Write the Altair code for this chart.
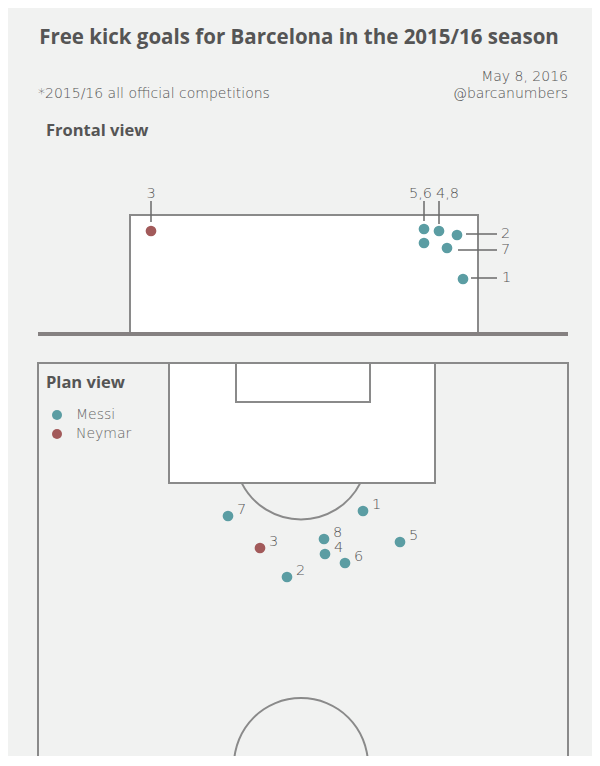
import math
import altair as alt
import pandas as pd

# ---------------- colours / fonts ----------------
BG = "#f1f2f1"
LINE = "#8a8a8a"
GROUND = "#858181"
TEXT = "#555555"
LEADER = "#6a6a6a"
FONT = "Open Sans"
LIGHT_FONT = "DejaVu Sans"
player_names = ["Messi", "Neymar"]
player_colors = ["#5b9da3", "#a25a5a"]

# ---------------- data (drawing units) ----------------
# Plan view: goal number, position, scorer
plan_goal = ["1", "2", "3", "4", "5", "6", "7", "8"]
plan_x = [363, 287, 260, 325, 400, 345, 228, 324]
plan_y = [511, 577, 548, 554, 542, 563, 516, 539]
plan_player = ["Messi", "Messi", "Neymar", "Messi", "Messi", "Messi", "Messi", "Messi"]

# Frontal view: where the ball entered the goal
front_x = [463, 457, 151, 439, 424, 424, 447]
front_y = [279, 235, 231, 231, 229, 243, 248]
front_player = ["Messi", "Messi", "Neymar", "Messi", "Messi", "Messi", "Messi"]

# Frontal view annotations
front_label = ["3", "5,6", "4,8", "2", "7", "1"]
front_label_x = [151, 432, 436, 501, 501, 502]
front_label_y = [198, 198, 198, 238, 254, 282]
front_label_align = ["center", "right", "left", "left", "left", "left"]
leader_x = [151, 424, 439, 466, 458, 471]
leader_x2 = [151, 424, 439, 497, 497, 497]
leader_y = [201, 201, 201, 234, 250, 278]
leader_y2 = [222, 221, 224, 234, 250, 278]

# Goal frame (frontal) and ground
goal_frame = dict(x=[130], x2=[478], y=[215], y2=[334])
ground = dict(x=[38], x2=[568], y=[334])

# Pitch (plan) outlines
pitch_name = ["pitch", "penalty area", "goal area"]
pitch_x = [38, 169, 236]
pitch_x2 = [568, 435, 370]
pitch_y = [363, 363, 363]
pitch_y2 = [765, 483, 402]
pitch_fill = [BG, "#ffffff", "#ffffff"]

# Arcs: penalty arc (centre = penalty spot) and centre circle
arc_name = ["penalty arc", "centre circle"]
arc_x = [301, 301]
arc_y = [453, 765]
arc_r = [66.5, 67]
arc_start = [math.pi - 1.10, 1.5 * math.pi]
arc_end = [math.pi + 1.10, 2.5 * math.pi]

# Texts
texts = [
    ("Free kick goals for Barcelona in the 2015/16 season", 299, 44, "center", 20.5, FONT, "bold"),
    ("*2015/16 all official competitions", 38, 98, "left", 14, LIGHT_FONT, 200),
    ("May 8, 2016", 568, 81, "right", 14, LIGHT_FONT, 200),
    ("@barcanumbers", 568, 98, "right", 14, LIGHT_FONT, 200),
]
heads = [("Frontal view", 46, 136), ("Plan view", 46, 388)]

legend_x = [57, 57]
legend_y = [415, 434]

# ---------------- scales ----------------
W, H = 584, 748
xs = alt.Scale(domain=[8, 8 + W], nice=False, zero=False)
ys = alt.Scale(domain=[8, 8 + H], reverse=True, nice=False, zero=False)
color_scale = alt.Scale(domain=player_names, range=player_colors)


def X(f="x"):
    return alt.X(f"{f}:Q", scale=xs, axis=None)


def Y(f="y"):
    return alt.Y(f"{f}:Q", scale=ys, axis=None)


layers = []

# pitch rectangles
pitch_df = pd.DataFrame(dict(name=pitch_name, x=pitch_x, x2=pitch_x2, y=pitch_y, y2=pitch_y2, fill=pitch_fill))
layers.append(
    alt.Chart(pitch_df).mark_rect(stroke=LINE, strokeWidth=2, clip=True).encode(
        x=X(), x2="x2:Q", y=Y(), y2="y2:Q", fill=alt.Fill("fill:N", scale=None)
    )
)

# arcs
arc_df = pd.DataFrame(dict(name=arc_name, x=arc_x, y=arc_y, r=arc_r, t1=arc_start, t2=arc_end))
for i in range(len(arc_name)):
    sub = arc_df.iloc[[i]]
    layers.append(
        alt.Chart(sub).mark_arc(
            radius=float(arc_r[i]) + 1, radius2=float(arc_r[i]) - 1,
            theta=float(arc_start[i]), theta2=float(arc_end[i]), color=LINE, clip=True
        ).encode(x=X(), y=Y())
    )

# goal frame
layers.append(
    alt.Chart(pd.DataFrame(goal_frame)).mark_rect(fill="#ffffff", stroke=LINE, strokeWidth=2).encode(
        x=X(), x2="x2:Q", y=Y(), y2="y2:Q"
    )
)
# ground
layers.append(
    alt.Chart(pd.DataFrame(ground)).mark_rule(color=GROUND, strokeWidth=4).encode(x=X(), x2="x2:Q", y=Y())
)

# leaders
lead_df = pd.DataFrame(dict(x=leader_x, x2=leader_x2, y=leader_y, y2=leader_y2))
layers.append(
    alt.Chart(lead_df).mark_rule(color=LEADER, strokeWidth=1.5).encode(x=X(), x2="x2:Q", y=Y(), y2="y2:Q")
)

# frontal labels
fl_df = pd.DataFrame(dict(t=front_label, x=front_label_x, y=front_label_y, a=front_label_align))
for al in ["center", "right", "left"]:
    layers.append(
        alt.Chart(fl_df[fl_df.a == al]).mark_text(
            align=al, baseline="alphabetic", font=LIGHT_FONT, fontSize=14.5, color=TEXT, fontWeight=200
        ).encode(x=X(), y=Y(), text="t:N")
    )

# frontal dots
fd_df = pd.DataFrame(dict(x=front_x, y=front_y, player=front_player))
layers.append(
    alt.Chart(fd_df).mark_circle(size=115, opacity=1).encode(
        x=X(), y=Y(), color=alt.Color("player:N", scale=color_scale, legend=None)
    )
)

# plan dots + labels
pd_df = pd.DataFrame(dict(goal=plan_goal, x=plan_x, y=plan_y, player=plan_player))
layers.append(
    alt.Chart(pd_df).mark_circle(size=115, opacity=1).encode(
        x=X(), y=Y(), color=alt.Color("player:N", scale=color_scale, legend=None)
    )
)
layers.append(
    alt.Chart(pd_df).mark_text(
        align="left", baseline="alphabetic", dx=9, dy=-2, font=LIGHT_FONT, fontSize=14.5, color=TEXT, fontWeight=200
    ).encode(x=X(), y=Y(), text="goal:N")
)

# legend
leg_df = pd.DataFrame(dict(player=player_names, x=legend_x, y=legend_y))
layers.append(
    alt.Chart(leg_df).mark_circle(size=100, opacity=1).encode(
        x=X(), y=Y(), color=alt.Color("player:N", scale=color_scale, legend=None)
    )
)
layers.append(
    alt.Chart(leg_df).mark_text(
        align="left", baseline="middle", dx=19, font=LIGHT_FONT, fontSize=14, color="#666666", fontWeight=200
    ).encode(x=X(), y=Y(), text="player:N")
)

# texts
for t, x, y, al, fs, fnt, fw in texts:
    layers.append(
        alt.Chart(pd.DataFrame(dict(t=[t], x=[x], y=[y]))).mark_text(
            align=al, baseline="alphabetic", font=fnt, fontSize=fs, fontWeight=fw, color=TEXT
        ).encode(x=X(), y=Y(), text="t:N")
    )
head_df = pd.DataFrame(dict(t=[h[0] for h in heads], x=[h[1] for h in heads], y=[h[2] for h in heads]))
layers.append(
    alt.Chart(head_df).mark_text(
        align="left", baseline="alphabetic", font=FONT, fontSize=16.5, fontWeight="bold", color=TEXT
    ).encode(x=X(), y=Y(), text="t:N")
)

chart = alt.layer(*layers).properties(
    width=W, height=H, padding=0, autosize="none", background=BG
).configure_view(stroke=None)

chart.save("out.html", embed_options={"renderer": "svg", "actions": False})
